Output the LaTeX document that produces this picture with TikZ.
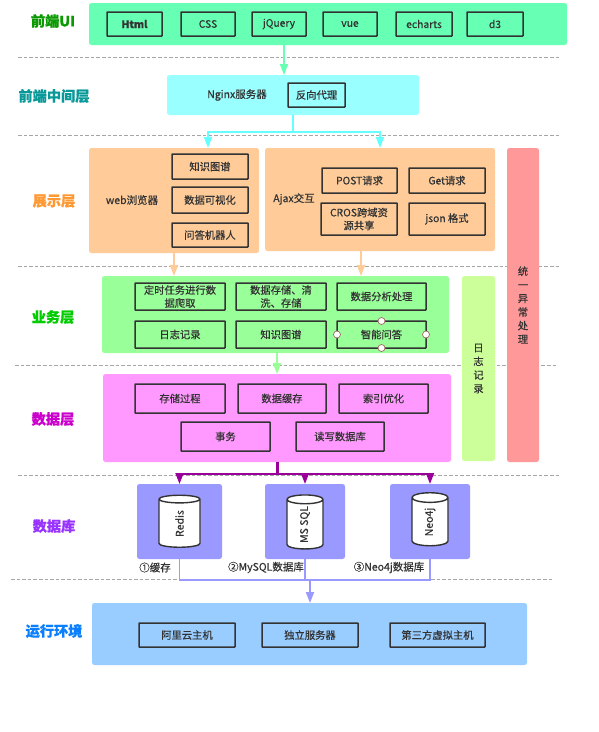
\documentclass[tikz,border=0pt]{standalone}
\usepackage{fontspec}
\setmainfont{Noto Sans CJK SC}[RawFeature={embolden=0.5}]
\usetikzlibrary{arrows.meta,shapes.geometric}
\definecolor{cui}{HTML}{66FFB3}
\definecolor{cng}{HTML}{99FFFF}
\definecolor{carr}{HTML}{66FFFF}
\definecolor{cor}{HTML}{FFCC99}
\definecolor{cgr}{HTML}{99FF99}
\definecolor{cma}{HTML}{FF99FF}
\definecolor{cdb}{HTML}{9999FF}
\definecolor{cen}{HTML}{99CCFF}
\definecolor{cre}{HTML}{FF9999}
\definecolor{clg}{HTML}{CCFF99}
\definecolor{cpu}{HTML}{990099}
\definecolor{cln}{HTML}{333333}
\definecolor{ctx}{HTML}{333333}
\definecolor{la}{HTML}{0A9900}
\definecolor{lb}{HTML}{0A9999}
\definecolor{lc}{HTML}{FF9933}
\definecolor{ld}{HTML}{00CC00}
\definecolor{le}{HTML}{CC00CC}
\definecolor{lf}{HTML}{9933FF}
\definecolor{lg}{HTML}{0A80FF}
\tikzset{
  panel/.style={rounded corners=2.5pt,fill=#1,draw=none,inner sep=0pt,outer sep=0pt,text=ctx,font=\fontsize{10.3}{12.6}\selectfont,align=center},
  inbox/.style={draw=cln,line width=1.5pt,rounded corners=0.5pt,fill=none,inner sep=0pt,outer sep=0pt,text=ctx,font=\fontsize{10.3}{13}\selectfont,align=center},
  layer/.style={font=\fontsize{14.2}{16}\selectfont\bfseries,text=#1,inner sep=0pt},
  free/.style={font=\fontsize{10.5}{12}\selectfont,text=ctx,inner sep=0pt},
  sep/.style={draw=black!35,line width=0.9pt,dash pattern=on 3.6pt off 2pt},
  flow/.style={draw=#1,line width=1.8pt,-{Triangle[width=8pt,length=11pt,fill=#1]}},
  flowp/.style={draw=#1,line width=1.8pt},
  handle/.style={circle,draw=black!60!red!60,fill=white,line width=0.7pt,minimum size=7pt,inner sep=0pt},
  cyl/.style={cylinder,rotate=90,draw=ctx,line width=1.4pt,fill=white,shape aspect=0.9,inner sep=0pt,outer sep=0pt,text=ctx,font=\fontsize{10.5}{12}\selectfont,cylinder uses custom fill,cylinder body fill=white,cylinder end fill=white},
}
\newcommand{\bx}[7]{\node[#6,minimum width={(#4)-(#2)},minimum height={(#5)-(#3)}] (#1) at ({((#2)+(#4))/2},{((#3)+(#5))/2}) {#7};}
\begin{document}
\begin{tikzpicture}[x=1pt,y=-1pt]
\useasboundingbox (0,0) rectangle (599,732);
\fill[white] (0,0) rectangle (599,732);
% separators
\coordinate (s1a) at (18,57); \coordinate (s1b) at (561,57);
\coordinate (s2a) at (18,135); \coordinate (s2b) at (561,135);
\coordinate (s3a) at (18,266); \coordinate (s3b) at (561,266);
\coordinate (s4a) at (15,365.5); \coordinate (s4b) at (558,365.5);
\coordinate (s5a) at (18,475.5); \coordinate (s5b) at (561,475.5);
\coordinate (s6a) at (11,579.5); \coordinate (s6b) at (554,579.5);
\draw[sep] (s1a)--(s1b); \draw[sep] (s2a)--(s2b); \draw[sep] (s3a)--(s3b);
\draw[sep] (s4a)--(s4b); \draw[sep] (s5a)--(s5b); \draw[sep] (s6a)--(s6b);
% layer labels
\node[layer=la] (l1) at (53,21) {前端UI};
\node[layer=lb] (l2) at (54,96) {前端中间层};
\node[layer=lc] (l3) at (54,201) {展示层};
\node[layer=ld] (l4) at (53,317) {业务层};
\node[layer=le] (l5) at (53,419) {数据层};
\node[layer=lf] (l6) at (54,526) {数据库};
\node[layer=lg] (l7) at (54,631) {运行环境};
% panels
\bx{ui}{89}{3}{567}{45}{panel=cui}{}
\bx{ng}{167}{75}{419}{115}{panel=cng}{}
\bx{web}{89}{148}{259}{253}{panel=cor}{}
\bx{ajax}{265}{148}{495}{251}{panel=cor}{}
\bx{err}{507}{148}{539}{462}{panel=cre}{统\\[1pt]一\\[1pt]异\\[1pt]常\\[1pt]处\\[1pt]理}
\bx{log}{462}{276}{495}{461}{panel=clg}{日\\[1pt]志\\[1pt]记\\[1pt]录}
\bx{biz}{102}{276}{449}{353}{panel=cgr}{}
\bx{dat}{103}{374}{451}{462}{panel=cma}{}
\bx{db1}{137}{484}{222}{559}{panel=cdb}{}
\bx{db2}{265}{484}{345}{559}{panel=cdb}{}
\bx{db3}{390}{484}{470}{559}{panel=cdb}{}
\bx{env}{92}{603}{527}{665}{panel=cen}{}
% UI row
\bx{html}{107}{12}{162}{36}{inbox}{\textbf{Html}}
\bx{css}{181}{12}{235}{36}{inbox}{CSS}
\bx{jq}{252}{12}{306}{36}{inbox}{jQuery}
\bx{vue}{323}{12}{377}{36}{inbox}{vue}
\bx{ech}{396}{12}{452}{36}{inbox}{echarts}
\bx{d3}{467}{12}{523}{36}{inbox}{d3}
% nginx
\node[free] (ngt) at (237,95) {Nginx服务器};
\bx{rp}{288}{83}{345}{107}{inbox}{反向代理}
% web
\node[free] (webt) at (132,200) {web浏览器};
\bx{w1}{172}{154}{248}{179}{inbox}{知识图谱}
\bx{w2}{172}{187}{248}{213}{inbox}{数据可视化}
\bx{w3}{172}{223}{248}{247}{inbox}{问答机器人}
% ajax
\node[free] (ajt) at (294,199) {Ajax交互};
\bx{a1}{322}{168}{397}{193}{inbox}{POST请求}
\bx{a2}{409}{168}{485}{193}{inbox}{Get请求}
\bx{a3}{321}{203}{397}{235}{inbox}{CROS跨域资\\源共享}
\bx{a4}{409}{203}{485}{235}{inbox}{json 格式}
% business
\bx{b1}{135}{283}{225}{310}{inbox}{定时任务进行数\\据爬取}
\bx{b2}{236}{283}{326}{310}{inbox}{数据存储、清\\洗、存储}
\bx{b3}{337}{283}{426}{310}{inbox}{数据分析处理}
\bx{b4}{135}{321}{225}{348}{inbox}{日志记录}
\bx{b5}{236}{321}{326}{348}{inbox}{知识图谱}
\bx{b6}{337}{321}{426}{348}{inbox}{智能问答}
\node[handle] (h1) at (b6.north) {};
\node[handle] (h2) at (b6.south) {};
\node[handle] (h3) at (b6.west) {};
\node[handle] (h4) at (b6.east) {};
% data
\bx{d1}{135}{384}{225}{413}{inbox}{存储过程}
\bx{d2}{238}{384}{326}{413}{inbox}{数据缓存}
\bx{dd3}{339}{384}{428}{413}{inbox}{索引优化}
\bx{d4}{181}{422}{270}{451}{inbox}{事务}
\bx{d5}{296}{422}{384}{451}{inbox}{读写数据库}
% databases
\node[cyl,minimum width=41pt,minimum height=52pt] (c1) at (179.5,523.5) {Redis};
\node[cyl,minimum width=36pt,minimum height=54pt] (c2) at (305,524.5) {MS SQL};
\node[cyl,minimum width=36pt,minimum height=53pt] (c3) at (430,522) {Neo4j};
\node[free] (t1) at (155,567.5) {①缓存};
\node[free] (t2) at (266,567.5) {②MySQL数据库};
\node[free] (t3) at (389,567.5) {③Neo4j数据库};
% env
\bx{e1}{139}{623}{235}{647}{inbox}{阿里云主机}
\bx{e2}{262}{623}{358}{647}{inbox}{独立服务器}
\bx{e3}{390}{623}{485}{647}{inbox}{第三方虚拟主机}
% connectors
\coordinate (p1) at (284,0);
\draw[flow=cui] (ui.south -| p1) -- (ng.north -| p1);
\coordinate (p2) at (293,132);
\coordinate (p2l) at (208,132);
\coordinate (p2r) at (380,132);
\draw[flowp=carr] (ng.south -| p2) -- (p2);
\draw[flow=carr] (p2) -- (p2l) -- (web.north -| p2l);
\draw[flow=carr] (p2) -- (p2r) -- (ajax.north -| p2r);
\coordinate (p3) at (174,0);
\draw[flow=cor] (web.south -| p3) -- (biz.north -| p3);
\coordinate (p4) at (361,0);
\draw[flow=cor] (ajax.south -| p4) -- (biz.north -| p4);
\coordinate (p5) at (277,0);
\draw[flow=cgr] (biz.south -| p5) -- (dat.north -| p5);
\coordinate (p6) at (277.5,474);
\draw[flowp=cpu,line width=2.4pt] (dat.south -| p6) -- (p6);
\coordinate (p6l) at (179.5,474);
\coordinate (p6m) at (305,474);
\coordinate (p6r) at (430,474);
\draw[flow=cpu] (p6) -- (p6l) -- (db1.north -| p6l);
\draw[flow=cpu] (p6m) -- (db2.north -| p6m);
\draw[flow=cpu] (p6) -- (p6r) -- (db3.north -| p6r);
\coordinate (p7l) at (179.5,580);
\coordinate (p7m) at (305,580);
\coordinate (p7r) at (430,580);
\coordinate (p7) at (310,580);
\draw[flowp=cdb] (db1.south -| p7l) -- (p7l) -- (p7r) -- (db3.south -| p7r);
\draw[flowp=cdb] (db2.south -| p7m) -- (p7m);
\draw[flow=cdb] (p7) -- (env.north -| p7);
\end{tikzpicture}
\end{document}
